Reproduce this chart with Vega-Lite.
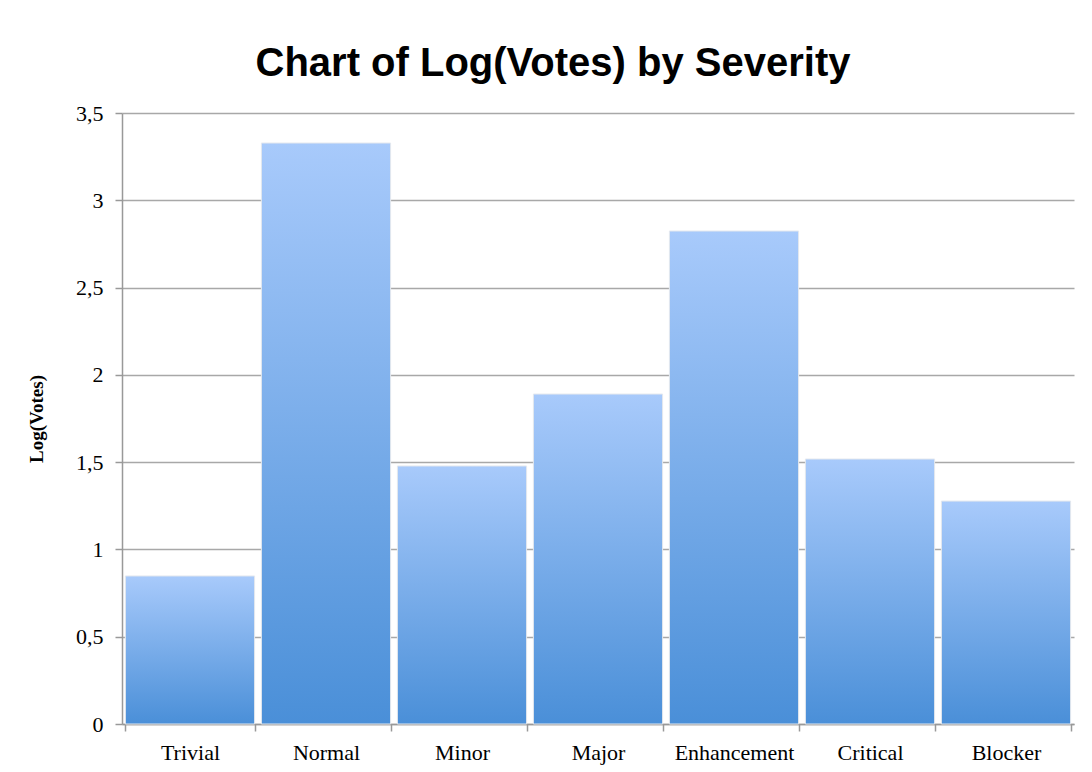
{
  "$schema": "https://vega.github.io/schema/vega-lite/v6.json",
  "autosize": {"type": "none"},
  "width": 952,
  "height": 611,
  "padding": {"left": 122, "top": 113, "right": 18, "bottom": 48},
  "background": "white",
  "title": {
    "text": "Chart of Log(Votes) by Severity",
    "font": "Liberation Sans",
    "fontSize": 40,
    "fontWeight": "bold",
    "color": "black",
    "anchor": "middle",
    "dx": -45,
    "offset": 18
  },
  "data": {
    "values": [
      {"severity": "Trivial", "logvotes": 0.848},
      {"severity": "Normal", "logvotes": 3.328},
      {"severity": "Minor", "logvotes": 1.478},
      {"severity": "Major", "logvotes": 1.89},
      {"severity": "Enhancement", "logvotes": 2.824},
      {"severity": "Critical", "logvotes": 1.518},
      {"severity": "Blocker", "logvotes": 1.277}
    ]
  },
  "mark": {
    "type": "bar",
    "color": {
      "gradient": "linear",
      "x1": 0, "y1": 0, "x2": 0, "y2": 1,
      "stops": [
        {"offset": 0, "color": "#a8cafb"},
        {"offset": 1, "color": "#4a8fd8"}
      ]
    },
    "stroke": "#e4e8ee",
    "strokeWidth": 1
  },
  "encoding": {
    "x": {
      "field": "severity",
      "type": "nominal",
      "sort": null,
      "scale": {"paddingInner": 0.05, "paddingOuter": 0.025},
      "axis": {
        "title": null,
        "labelAngle": 0,
        "labelFont": "Liberation Serif",
        "labelFontSize": 22,
        "labelColor": "black",
        "labelPadding": 11,
        "tickBand": "extent",
        "ticks": true,
        "tickSize": 7,
        "tickColor": "#999999",
        "tickWidth": 1.5,
        "domain": true,
        "domainColor": "#999999",
        "domainWidth": 1.5,
        "grid": false
      }
    },
    "y": {
      "field": "logvotes",
      "type": "quantitative",
      "scale": {"domain": [0, 3.5], "nice": false},
      "axis": {
        "title": "Log(Votes)",
        "titleFont": "Liberation Serif",
        "titleFontSize": 19,
        "titleFontWeight": "bold",
        "titleColor": "black",
        "titlePadding": 29,
        "values": [0, 0.5, 1, 1.5, 2, 2.5, 3, 3.5],
        "labelExpr": "replace(toString(datum.value), '.', ',')",
        "labelFont": "Liberation Serif",
        "labelFontSize": 22,
        "labelColor": "black",
        "labelPadding": 12,
        "tickSize": 7,
        "tickColor": "#999999",
        "tickWidth": 1.5,
        "domainColor": "#999999",
        "domainWidth": 1.5,
        "grid": true,
        "gridColor": "#a8a8a8",
        "gridWidth": 1.5
      }
    }
  },
  "config": {"view": {"stroke": null}}
}
